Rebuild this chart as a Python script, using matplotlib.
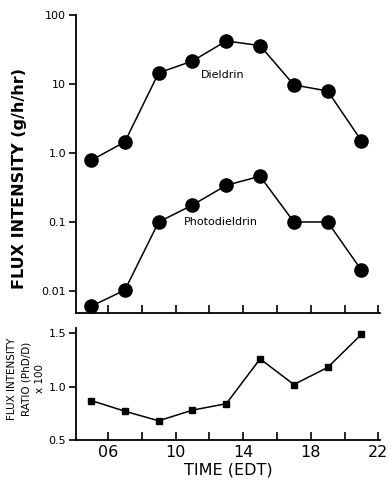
import matplotlib
matplotlib.use('Agg')
import matplotlib.pyplot as plt
from matplotlib.ticker import FixedLocator, NullLocator

hours = [5, 7, 9, 11, 13, 15, 17, 19, 21]
dieldrin = [0.78, 1.45, 14.5, 21.5, 42, 36, 9.7, 7.9, 1.5]
photodieldrin = [0.006, 0.0103, 0.1, 0.176, 0.34, 0.46, 0.1, 0.1, 0.02]
ratio = [0.87, 0.77, 0.68, 0.78, 0.84, 1.26, 1.02, 1.18, 1.49]

xticks = [6, 8, 10, 12, 14, 16, 18, 20, 22]
xticklabels = ['06', '', '10', '', '14', '', '18', '', '22']
flux_ticks = [0.01, 0.1, 1.0, 10, 100]
flux_labels = ['0.01', '0.1', '1.0', '10', '100']
ratio_ticks = [0.5, 1.0, 1.5]
ratio_labels = ['0.5', '1.0', '1.5']

fig = plt.figure(figsize=(3.89, 4.83), dpi=100)
ax1 = fig.add_axes([0.195, 0.352, 0.782, 0.617])
ax2 = fig.add_axes([0.195, 0.089, 0.782, 0.232])

for ax in (ax1, ax2):
    ax.spines['top'].set_visible(False)
    ax.spines['right'].set_visible(False)
    ax.set_xlim(4.1, 22.1)
    ax.set_xticks(xticks)
    ax.tick_params(axis='x', direction='in', length=6, width=1.2)
    ax.tick_params(axis='y', direction='out', length=5, width=1.2, pad=2, labelsize=8)
    for s in ax.spines.values():
        s.set_linewidth(1.3)

ax1.plot(hours, dieldrin, 'k-o', ms=9.5, lw=1.1)
ax1.plot(hours, photodieldrin, 'k-o', ms=9.5, lw=1.1)
ax1.set_yscale('log')
ax1.set_ylim(0.0048, 100)
ax1.yaxis.set_major_locator(FixedLocator(flux_ticks))
ax1.yaxis.set_minor_locator(NullLocator())
ax1.set_yticklabels(flux_labels)
ax1.set_xticklabels([])
ax1.text(12.8, 13.5, 'Dieldrin', fontsize=8, ha='center', va='center')
ax1.text(12.7, 0.1, 'Photodieldrin', fontsize=8, ha='center', va='center')
ax1.set_ylabel('FLUX INTENSITY (g/h/hr)', fontsize=11.5, fontweight='bold')
ax1.yaxis.set_label_coords(-0.16, 0.45)

ax2.plot(hours, ratio, 'k-s', ms=4.5, lw=1.1)
ax2.set_ylim(0.5, 1.55)
ax2.set_yticks(ratio_ticks)
ax2.set_yticklabels(ratio_labels)
ax2.set_xticklabels(xticklabels, fontsize=11.5)
ax2.set_ylabel('FLUX INTENSITY\nRATIO (PhD/D)\nx 100', fontsize=7.5, linespacing=1.5)
ax2.yaxis.set_label_coords(-0.1, 0.55)
ax2.set_xlabel('TIME (EDT)', fontsize=11.5, labelpad=2)

fig.savefig('out.png', dpi=100)
